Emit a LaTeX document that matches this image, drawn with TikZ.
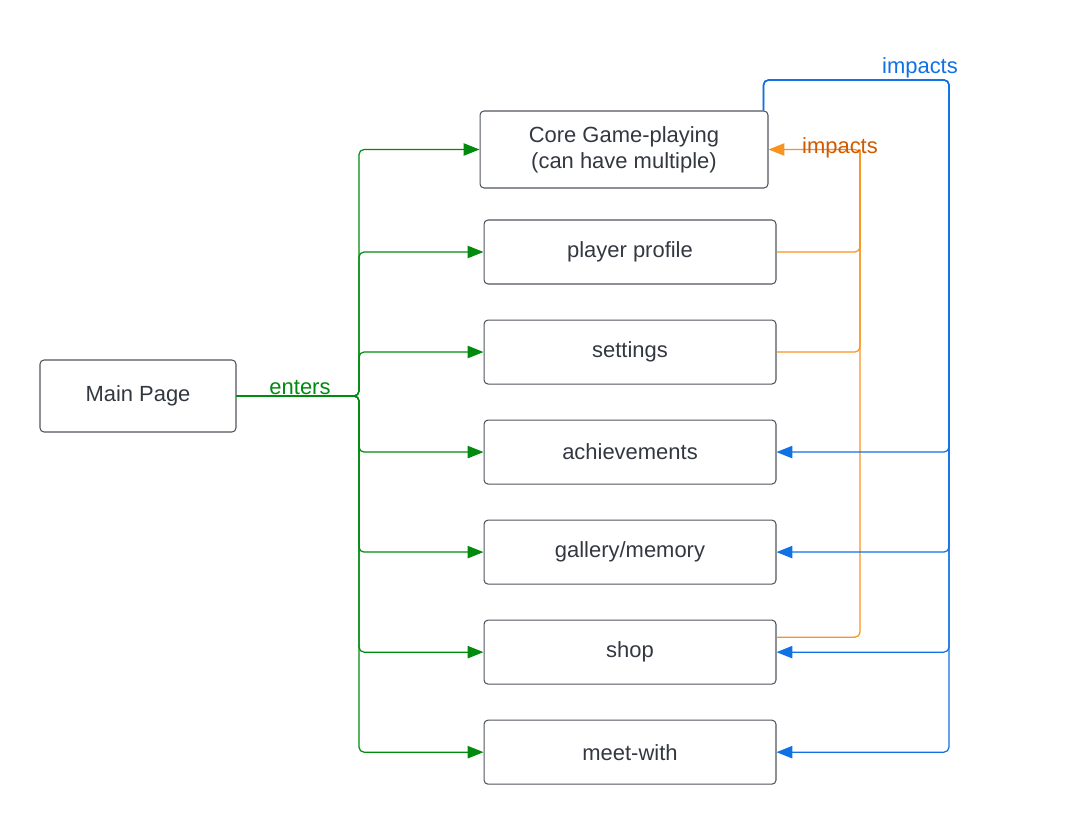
\documentclass[tikz,border=0pt]{standalone}
\usepackage{fontspec}
\setmainfont{Liberation Sans}
\usetikzlibrary{positioning, arrows.meta}
\definecolor{boxline}{HTML}{50555C}
\definecolor{boxtext}{HTML}{333840}
\definecolor{entergreen}{HTML}{008A0E}
\definecolor{impactorange}{HTML}{F7931E}
\definecolor{impactlabel}{HTML}{D05A00}
\definecolor{impactblue}{HTML}{1071E5}
\tikzset{
  page/.style={draw=boxline, line width=0.6pt, rounded corners=0.08cm, text=boxtext,
    align=center, font=\fontsize{12.5}{15}\selectfont, minimum width=5.84cm, minimum height=1.28cm},
  link/.style={line width=0.7pt, rounded corners=0.1cm, -{Triangle[length=9pt, width=7pt]}},
  enters/.style={link, draw=entergreen},
  impacts orange/.style={link, draw=impactorange},
  impacts blue/.style={link, draw=impactblue},
  linklabel/.style={font=\fontsize{12.5}{15}\selectfont, inner sep=0pt}
}
\begin{document}
\begin{tikzpicture}[x=0.02cm, y=-0.02cm, node distance=0.70cm]
\useasboundingbox (0,0) rectangle (1080,825);

\node[page, minimum width=3.92cm, minimum height=1.44cm] (main) at (138,396) {Main Page};
\node[page, minimum width=5.76cm, minimum height=1.54cm] (core) at (624,149.5) {Core Game-playing\\(can have multiple)};

\node[page] (profile) at (630,252) {player profile};
\node[page, below=of profile] (settings) {settings};
\node[page, below=of settings] (achievements) {achievements};
\node[page, below=of achievements] (gallery) {gallery/memory};
\node[page, below=of gallery] (shop) {shop};
\node[page, below=of shop] (meet) {meet-with};

% green fan-out
\coordinate (fork) at (359,396);
\foreach \n in {core, profile, settings, achievements, gallery, shop, meet}
  \draw[enters] (main.east) -- (fork) |- (\n.west);
\node[linklabel, text=entergreen] (enterslabel) at (300,388) {enters};

% orange feedback
\coordinate (obus) at (860,149.5);
\draw[impacts orange] (profile.east) -| (obus) -- (core.east);
\draw[impacts orange, -] (settings.east) -| (obus);
\draw[impacts orange, -] ([yshift=0.3cm]shop.east) -| (obus);
\node[linklabel, text=impactlabel] (olabel) at (840,148) {impacts};

% blue feedback
\coordinate (btop) at (949,80);
\foreach \n in {achievements, gallery, shop, meet}
  \draw[impacts blue] ([xshift=-0.1cm]core.north east) |- (btop) |- (\n.east);
\node[linklabel, text=impactblue] (blabel) at (920,68) {impacts};
\end{tikzpicture}
\end{document}
